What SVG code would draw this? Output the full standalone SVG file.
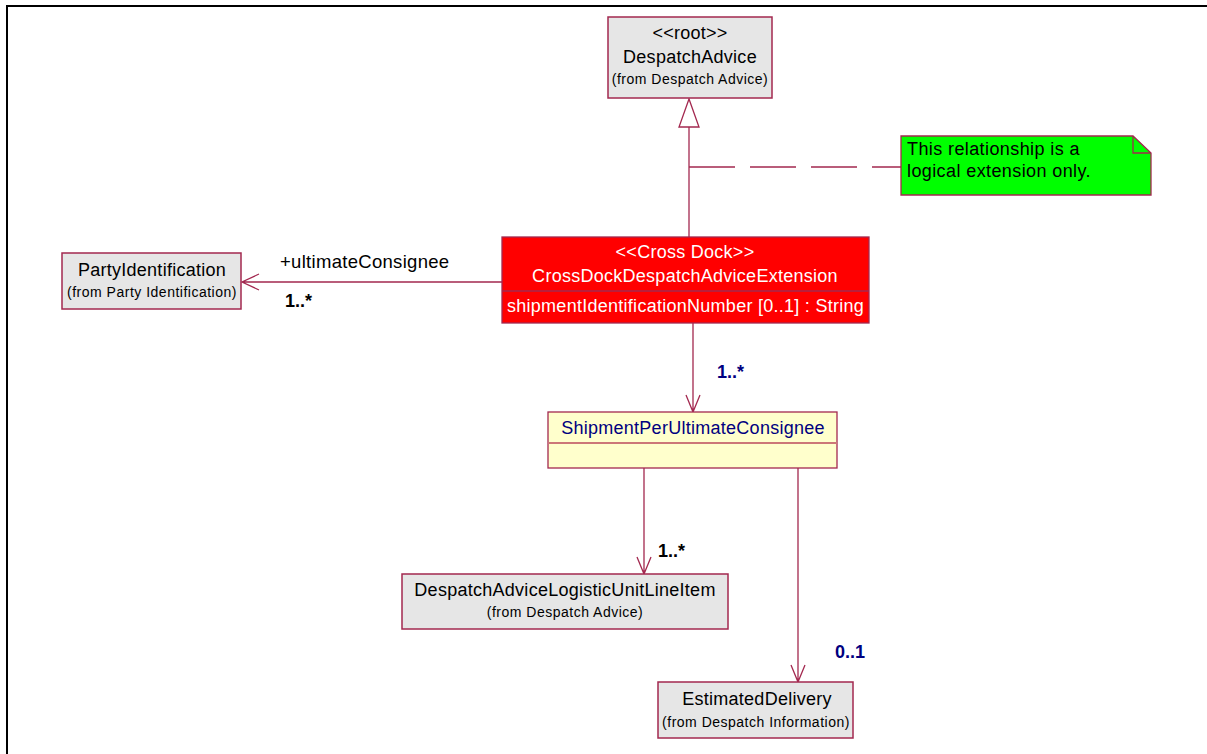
<svg xmlns="http://www.w3.org/2000/svg" width="1207" height="754" viewBox="0 0 1207 754">
<style>
text{font-family:"Liberation Sans",Arial,sans-serif;}
.box{fill:#e6e6e6;stroke:#a3284f;stroke-width:1.5;}
.t{font-size:18px;letter-spacing:0.27px;fill:#000;text-anchor:middle;}
.s{font-size:14px;fill:#000;text-anchor:middle;letter-spacing:0.5px;}
.w{font-size:18px;letter-spacing:0.27px;fill:#fff;text-anchor:middle;}
.nv{font-size:18px;fill:#000080;font-weight:bold;}
.bk{font-size:18.5px;letter-spacing:0.3px;fill:#000;}
.ln{stroke:#a3284f;stroke-width:1.3;fill:none;}
</style>
<path d="M7,754 V6 H1207" fill="none" stroke="#000" stroke-width="2"/>
<g id="connectors">
<path class="ln" d="M689,127 V237"/>
<polygon points="689,99 679,127 699,127" fill="#fff" stroke="#a3284f" stroke-width="1.3"/>
<path class="ln" d="M689,167 H901" stroke-dasharray="46,15"/>
<path class="ln" d="M502,282 H242 M259,274 L242,282 L259,290"/>
<text x="280" y="268" class="bk">+ultimateConsignee</text>
<text x="285" y="307" style="font-size:18px;font-weight:bold;fill:#000">1..*</text>
<path class="ln" d="M693,323 V412 M686,395 L693,412 L700,395"/>
<text x="717" y="378" class="nv">1..*</text>
<path class="ln" d="M644,468 V574 M637,557 L644,574 L651,557"/>
<text x="658" y="557" style="font-size:18px;font-weight:bold;fill:#000">1..*</text>
<path class="ln" d="M798,468 V682 M791,665 L798,682 L805,665"/>
<text x="835" y="658" class="nv">0..1</text>
</g>
<g id="DespatchAdvice">
<rect class="box" x="608" y="17" width="164" height="81"/>
<text class="t" x="690" y="39">&lt;&lt;root&gt;&gt;</text>
<text class="t" x="690" y="63">DespatchAdvice</text>
<text class="s" x="690" y="84">(from Despatch Advice)</text>
</g>
<g id="note">
<path d="M901,136 H1133 L1151,153 V195 H901 Z" fill="#00ff00" stroke="#a3284f" stroke-width="1.3"/>
<path d="M1133,136 V153 H1151" fill="none" stroke="#a3284f" stroke-width="1.3"/>
<text x="907" y="155" style="font-size:18px;letter-spacing:0.4px;fill:#000">This relationship is a</text>
<text x="907" y="177" style="font-size:18px;letter-spacing:0.4px;fill:#000">logical extension only.</text>
</g>
<g id="CrossDockDespatchAdviceExtension">
<rect x="502" y="237" width="367" height="86" fill="#ff0000" stroke="#a3284f" stroke-width="1.3"/>
<line x1="502" y1="291" x2="869" y2="291" stroke="#a3284f" stroke-width="1.3"/>
<text class="w" x="685" y="258">&lt;&lt;Cross Dock&gt;&gt;</text>
<text class="w" x="685" y="282">CrossDockDespatchAdviceExtension</text>
<text x="507" y="312" style="font-size:18px;letter-spacing:0.27px;fill:#fff">shipmentIdentificationNumber [0..1] : String</text>
</g>
<g id="PartyIdentification">
<rect class="box" x="62" y="253" width="179" height="56"/>
<text class="t" x="152" y="276">PartyIdentification</text>
<text class="s" x="152" y="297">(from Party Identification)</text>
</g>
<g id="ShipmentPerUltimateConsignee">
<rect x="548" y="412" width="289" height="56" fill="#ffffcc" stroke="#a3284f" stroke-width="1.3"/>
<line x1="548" y1="443" x2="837" y2="443" stroke="#cc7777" stroke-width="2"/>
<text x="693" y="434" style="font-size:18px;letter-spacing:0.27px;fill:#000080;text-anchor:middle">ShipmentPerUltimateConsignee</text>
</g>
<g id="DespatchAdviceLogisticUnitLineItem">
<rect class="box" x="402" y="574" width="326" height="55"/>
<text class="t" x="565" y="596">DespatchAdviceLogisticUnitLineItem</text>
<text class="s" x="565" y="617">(from Despatch Advice)</text>
</g>
<g id="EstimatedDelivery">
<rect class="box" x="658" y="682" width="195" height="56"/>
<text class="t" x="757" y="705">EstimatedDelivery</text>
<text class="s" x="756" y="727">(from Despatch Information)</text>
</g>
</svg>
